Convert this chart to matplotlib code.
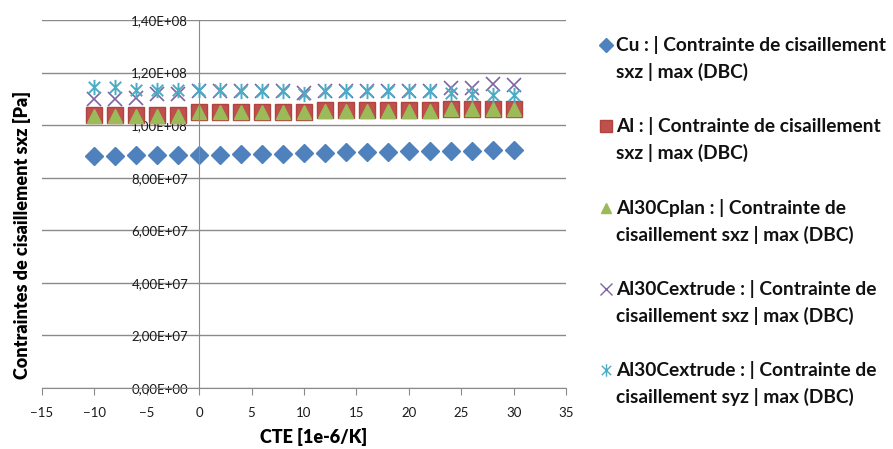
import matplotlib
matplotlib.use("Agg")
import matplotlib.pyplot as plt
from matplotlib.lines import Line2D
from matplotlib.path import Path
from matplotlib.ticker import FuncFormatter, MultipleLocator

plt.rcParams['font.family'] = ['Lato', 'DejaVu Sans']

# CTE [1e-6/K]
cte = [-10, -8, -6, -4, -2, 0, 2, 4, 6, 8, 10, 12, 14, 16, 18, 20, 22, 24, 26, 28, 30]

# contraintes max (Pa)
cu = [8.84e7, 8.84e7, 8.85e7, 8.85e7, 8.86e7, 8.87e7, 8.88e7, 8.90e7, 8.91e7, 8.92e7, 8.93e7,
      8.95e7, 8.96e7, 8.97e7, 8.99e7, 9.00e7, 9.01e7, 9.02e7, 9.03e7, 9.05e7, 9.06e7]
al = [1.037e8, 1.037e8, 1.037e8, 1.037e8, 1.037e8, 1.050e8, 1.050e8, 1.050e8, 1.050e8, 1.050e8, 1.050e8,
      1.056e8, 1.056e8, 1.056e8, 1.056e8, 1.056e8, 1.056e8, 1.063e8, 1.063e8, 1.063e8, 1.063e8]
al30_plan = [1.036e8, 1.036e8, 1.036e8, 1.036e8, 1.036e8, 1.049e8, 1.049e8, 1.049e8, 1.049e8, 1.049e8, 1.049e8,
             1.055e8, 1.055e8, 1.055e8, 1.055e8, 1.055e8, 1.055e8, 1.062e8, 1.062e8, 1.062e8, 1.062e8]
al30_ext_sxz = [1.100e8, 1.100e8, 1.102e8, 1.118e8, 1.119e8, 1.130e8, 1.130e8, 1.130e8, 1.130e8, 1.130e8, 1.121e8,
                1.130e8, 1.130e8, 1.130e8, 1.130e8, 1.131e8, 1.131e8, 1.141e8, 1.142e8, 1.155e8, 1.153e8]
al30_ext_syz = [1.145e8, 1.144e8, 1.132e8, 1.132e8, 1.132e8, 1.132e8, 1.132e8, 1.130e8, 1.130e8, 1.130e8, 1.120e8,
                1.128e8, 1.128e8, 1.128e8, 1.128e8, 1.128e8, 1.128e8, 1.121e8, 1.120e8, 1.115e8, 1.115e8]

labels = [
    "Cu : | Contrainte de cisaillement\nsxz | max (DBC)",
    "Al : | Contrainte de cisaillement\nsxz | max (DBC)",
    "Al30Cplan : | Contrainte de\ncisaillement sxz | max (DBC)",
    "Al30Cextrude : | Contrainte de\ncisaillement sxz | max (DBC)",
    "Al30Cextrude : | Contrainte de\ncisaillement syz | max (DBC)",
]

# asterisque facon Excel : verticale + X
star = Path([(0, -1), (0, 1), (-0.75, -0.75), (0.75, 0.75), (-0.75, 0.75), (0.75, -0.75)],
            [Path.MOVETO, Path.LINETO, Path.MOVETO, Path.LINETO, Path.MOVETO, Path.LINETO])

W, H = 893, 449
fig = plt.figure(figsize=(W / 100, H / 100), dpi=100)
ax = fig.add_axes([42 / W, 1 - 388 / H, 524 / W, 368 / H])

h1, = ax.plot(cte, cu, ls='none', marker='D', ms=9.5, mfc='#4F81BD', mec='#4F81BD')
h2, = ax.plot(cte, al, ls='none', marker='s', ms=11, mfc='#C0504D', mec='#B04540')
h3, = ax.plot(cte, al30_plan, ls='none', marker='^', ms=9.5, mfc='#9BBB59', mec='#9BBB59')
h4, = ax.plot(cte, al30_ext_sxz, ls='none', marker='x', ms=10, mew=1.2, color='#8064A2')
h5, = ax.plot(cte, al30_ext_syz, ls='none', marker=star, ms=11, mew=1.4, color='#4BACC6')

ax.set_xlim(-15, 35)
ax.set_ylim(0, 1.4e8)
ax.xaxis.set_major_locator(MultipleLocator(5))
ax.yaxis.set_major_locator(MultipleLocator(2e7))
ax.yaxis.set_major_formatter(FuncFormatter(lambda v, p: f"{v:.2E}".replace('.', ',')))

ax.grid(axis='y', color='#8A8A8A', lw=1)
ax.set_axisbelow(True)
for s in ['top', 'right']:
    ax.spines[s].set_visible(False)
ax.spines['left'].set_position(('data', 0))
ax.spines['left'].set_color('#8A8A8A')
ax.spines['bottom'].set_color('#8A8A8A')
ax.tick_params(axis='x', length=5, color='#8A8A8A', pad=9, labelsize=9.5, labelcolor='#1A1A1A')
ax.tick_params(axis='y', length=0, pad=8, labelsize=9.5, labelcolor='#1A1A1A')

ax.set_xlabel("CTE [1e-6/K]", fontsize=13, fontweight='heavy', labelpad=8)
ax.xaxis.set_label_coords(0.519, -0.108)
ax.set_ylabel("Contraintes de cisaillement sxz [Pa]", fontsize=13, fontweight='heavy')
ax.yaxis.set_label_coords(-0.021, 0.416)

# legende a droite, marqueur aligne sur la premiere ligne
leg_ms = [7, 8.5, 7.5, 8, 9]
for i, (h, lab) in enumerate(zip([h1, h2, h3, h4, h5], labels)):
    yc = 45 + i * 81.3
    fig.add_artist(Line2D([606 / W], [1 - yc / H], transform=fig.transFigure, ls='none',
                          marker=h.get_marker(), ms=leg_ms[i], mfc=h.get_mfc(), mec=h.get_mec(),
                          mew=1.0))
    for j, line in enumerate(lab.split('\n')):
        fig.text(616 / W, 1 - (yc + 6 + j * 27) / H, line, fontsize=13.8, fontweight='bold',
                 va='baseline', ha='left', color='#111111')

fig.savefig("out.png", dpi=100)
